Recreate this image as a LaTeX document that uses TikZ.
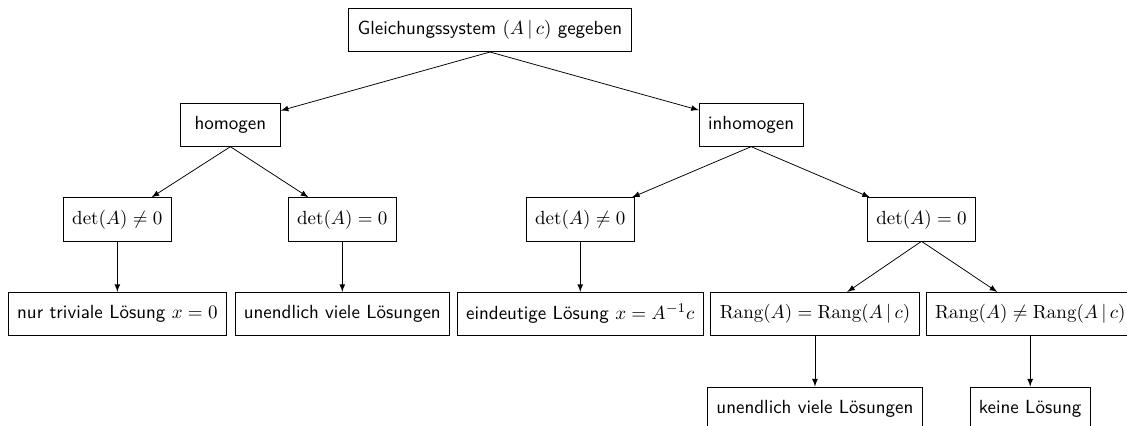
\documentclass[tikz,border=0pt]{standalone}
\usepackage{fontspec}
\begin{document}
\begin{tikzpicture}[
    kasten/.style={draw, rectangle, inner xsep=4.7pt, minimum width=1.85cm, minimum height=0.8cm, font=\sffamily},
    pfeil/.style={-latex}
  ]
      \useasboundingbox (-9.06,0.555) rectangle (11.78,-7.32);

      % Ausgangspunkt
      \node[kasten] (sys) at (0,0) {Gleichungssystem \( (A\,|\,c) \) gegeben};

      % Fallunterscheidung
      \node[kasten] (hom) at (-4.8,-1.75) {homogen};
      \node[kasten] (inhom) at (4.83,-1.75) {inhomogen};

      % Determinante
      \node[kasten] (hdetn) at (-6.89,-3.5) {\( \det(A) \neq 0 \)};
      \node[kasten] (hdetg) at (-2.73,-3.5) {\( \det(A) = 0 \)};
      \node[kasten] (idetn) at (1.67,-3.5) {\( \det(A) \neq 0 \)};
      \node[kasten] (idetg) at (7.98,-3.5) {\( \det(A) = 0 \)};

      % Loesungen
      \node[kasten] (triv) at (-6.89,-5.25) {nur triviale Lösung \( x = 0 \)};
      \node[kasten] (hunend) at (-2.73,-5.25) {unendlich viele Lösungen};
      \node[kasten] (eind) at (1.67,-5.25) {eindeutige Lösung \( x = A^{-1}c \)};
      \node[kasten] (rgleich) at (6.01,-5.25) {\( \mathrm{Rang}(A) = \mathrm{Rang}(A\,|\,c) \)};
      \node[kasten] (rungl) at (9.99,-5.25) {\( \mathrm{Rang}(A) \neq \mathrm{Rang}(A\,|\,c) \)};
      \node[kasten] (iunend) at (6.01,-7) {unendlich viele Lösungen};
      \node[kasten] (keine) at (9.99,-7) {keine Lösung};

      % Pfeile
      \draw[pfeil] (sys.south) -- (hom);
      \draw[pfeil] (sys.south) -- (inhom);
      \draw[pfeil] (hom.south) -- (hdetn);
      \draw[pfeil] (hom.south) -- (hdetg);
      \draw[pfeil] (inhom.south) -- (idetn);
      \draw[pfeil] (inhom.south) -- (idetg);
      \draw[pfeil] (hdetn.south) -- (triv);
      \draw[pfeil] (hdetg.south) -- (hunend);
      \draw[pfeil] (idetn.south) -- (eind);
      \draw[pfeil] (idetg.south) -- (rgleich);
      \draw[pfeil] (idetg.south) -- (rungl);
      \draw[pfeil] (rgleich.south) -- (iunend);
      \draw[pfeil] (rungl.south) -- (keine);
    \end{tikzpicture}
\end{document}
